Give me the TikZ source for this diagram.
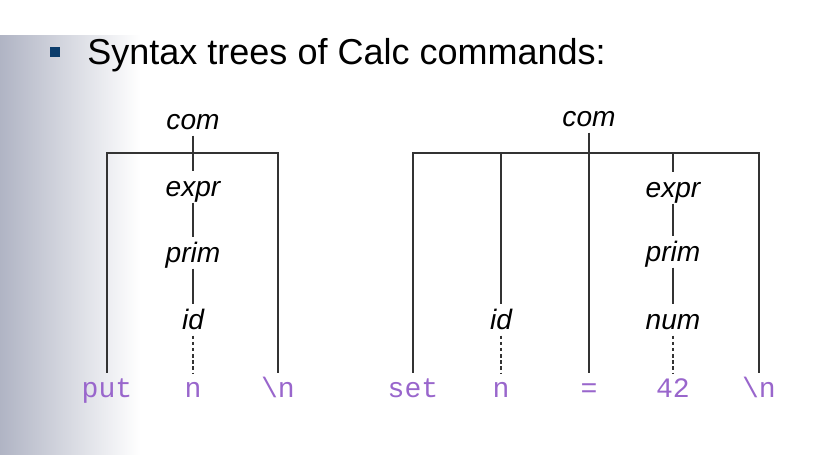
\documentclass[tikz,border=0pt]{standalone}
\usepackage{fontspec}
\setsansfont{Liberation Sans}
\setmonofont{Liberation Mono}
\usetikzlibrary{positioning}
\definecolor{tokpurple}{HTML}{9966CC}
\definecolor{bulletblue}{HTML}{0B3C6B}
\definecolor{sidegray}{HTML}{B0B4C4}
\definecolor{branchgray}{HTML}{333333}
\tikzset{
	nt/.style={font=\fontsize{16}{16}\selectfont\sffamily\itshape, inner xsep=2pt, inner ysep=0pt, text height=14pt, text depth=3.4pt},
	tok/.style={font=\fontsize{16}{16}\selectfont\ttfamily, text=tokpurple, inner xsep=2pt, inner ysep=3.5pt, text height=10.5pt, text depth=3pt},
	branch/.style={draw=branchgray, line width=0.6pt},
	leafline/.style={draw=branchgray, line width=0.6pt, dash pattern=on 2pt off 1.5pt}
}

\begin{document}
\begin{tikzpicture}[x=0.02cm, y=-0.02cm]
	\useasboundingbox (0,0) rectangle (840,454);
	\shade[left color=sidegray, right color=white] (0,35) rectangle (140,454);
	
	% title line
	\node[fill=bulletblue, inner sep=0pt, minimum width=6pt, minimum height=6pt] (bullet) at (55,52) {};
	\node[anchor=base west, font=\fontsize{20.5}{21}\selectfont\sffamily, inner sep=0pt] (title) at (87,64) {Syntax trees of Calc commands:};
	
	% put n \n
	\node[nt] (com1) at (193,120) {com};
	\node[nt] (expr1) at (193,187) {expr};
	\node[nt] (prim1) at (193,253) {prim};
	\node[nt] (id1) at (193,320) {id};
	\node[tok] (put1) at (107,391) {put};
	\node[tok] (n1) at (193,391) {n};
	\node[tok] (nl1) at (278,391) {\textbackslash n};
	\coordinate (bar1l) at (107,153);
	\coordinate (bar1r) at (278,153);
	\draw[branch] (put1.north) -- (bar1l) -- (bar1r) -- (nl1.north);
	\draw[branch] (com1) -- (expr1);
	\draw[branch] (expr1) -- (prim1);
	\draw[branch] (prim1) -- (id1);
	\draw[leafline] (id1) -- (n1);
	
	% set n = 42 \n
	\node[nt] (com2) at (589,117) {com};
	\node[nt] (expr2) at (673,188) {expr};
	\node[nt] (prim2) at (673,252) {prim};
	\node[nt] (num2) at (673,320) {num};
	\node[nt] (id2) at (501,320) {id};
	\node[tok] (set2) at (413,391) {set};
	\node[tok] (n2) at (501,391) {n};
	\node[tok] (eq2) at (589,391) {=};
	\node[tok] (lit2) at (673,391) {42};
	\node[tok] (nl2) at (759,391) {\textbackslash n};
	\coordinate (bar2l) at (413,153);
	\coordinate (bar2r) at (759,153);
	\coordinate (bar2id) at (501,153);
	\coordinate (bar2ex) at (673,153);
	\draw[branch] (set2.north) -- (bar2l) -- (bar2r) -- (nl2.north);
	\draw[branch] (bar2id) -- (id2);
	\draw[branch] (bar2ex) -- (expr2);
	\draw[branch] (com2) -- (eq2);
	\draw[branch] (expr2) -- (prim2);
	\draw[branch] (prim2) -- (num2);
	\draw[leafline] (id2) -- (n2);
	\draw[leafline] (num2) -- (lit2);
\end{tikzpicture}
\end{document}
